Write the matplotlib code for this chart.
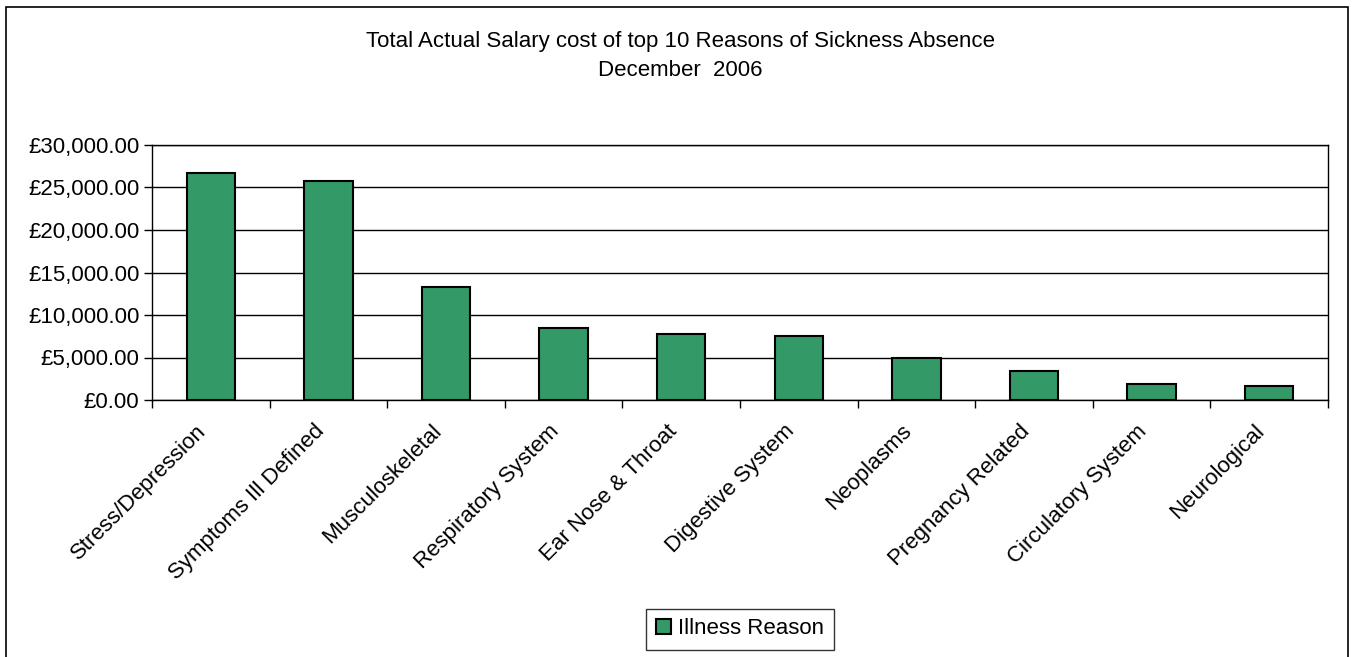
import numpy as np
import matplotlib
matplotlib.use("Agg")
import matplotlib.pyplot as plt
import matplotlib.transforms as mtransforms
from matplotlib.patches import Rectangle
from matplotlib.ticker import FuncFormatter, MultipleLocator

plt.rcParams['font.family'] = ['Liberation Sans', 'DejaVu Sans']

reasons = ['Stress/Depression', 'Symptoms Ill Defined', 'Musculoskeletal',
           'Respiratory System', 'Ear Nose & Throat', 'Digestive System',
           'Neoplasms', 'Pregnancy Related', 'Circulatory System', 'Neurological']
costs = [26660, 25750, 13290, 8490, 7820, 7550, 4990, 3380, 1930, 1650]
series_name = 'Illness Reason'

FS = 16

fig = plt.figure(figsize=(13.56, 6.57), dpi=100)
ax = fig.add_axes([152 / 1356, 1 - 400 / 657, (1328 - 152) / 1356, (400 - 145) / 657])

x = np.arange(len(reasons))
ax.bar(x, costs, width=0.41, color='#339966', edgecolor='black', linewidth=1.5,
       label=series_name, zorder=3)

ax.set_xlim(-0.5, len(reasons) - 0.5)
ax.set_ylim(0, 30000)
ax.yaxis.set_major_locator(MultipleLocator(5000))
ax.yaxis.set_major_formatter(FuncFormatter(lambda v, p: '£{:,.2f}'.format(v)))
ax.grid(axis='y', color='black', linewidth=1, zorder=0)

ax.set_xticks(x)
ax.set_xticklabels(reasons, rotation=45, ha='right', rotation_mode='anchor')
ax.set_xticks(np.arange(len(reasons) + 1) - 0.5, minor=True)
ax.tick_params(axis='x', which='major', length=0, pad=10, labelsize=FS)
ax.tick_params(axis='x', which='minor', length=6, width=1, direction='out')
ax.tick_params(axis='y', length=6, width=1, labelsize=FS, pad=3)

# nudge the slanted labels a bit left and down
shift = mtransforms.ScaledTranslation(-15 / 100, -7 / 100, fig.dpi_scale_trans)
for lbl in ax.get_xticklabels():
    lbl.set_transform(lbl.get_transform() + shift)

for s in ax.spines.values():
    s.set_linewidth(1)
    s.set_color('black')

fig.text(0.5015, 1 - 41 / 657, 'Total Actual Salary cost of top 10 Reasons of Sickness Absence',
         ha='center', va='center', fontsize=FS)
fig.text(0.5015, 1 - 70 / 657, 'December  2006', ha='center', va='center', fontsize=FS)

leg = ax.legend(loc='center', bbox_to_anchor=(740 / 1356, 1 - 629 / 657),
                bbox_transform=fig.transFigure, frameon=True, fancybox=False,
                fontsize=FS, handlelength=0.65, handleheight=0.65, handletextpad=0.3,
                borderpad=0.45, borderaxespad=0)
leg.get_frame().set_edgecolor('black')
leg.get_frame().set_linewidth(1)

# outer chart border
fig.patches.append(Rectangle((6 / 1356, -0.01), 1342 / 1356, 1 - 7 / 657 + 0.01,
                             transform=fig.transFigure, fill=False,
                             edgecolor='black', linewidth=1.2))

fig.savefig('out.png', dpi=100)
